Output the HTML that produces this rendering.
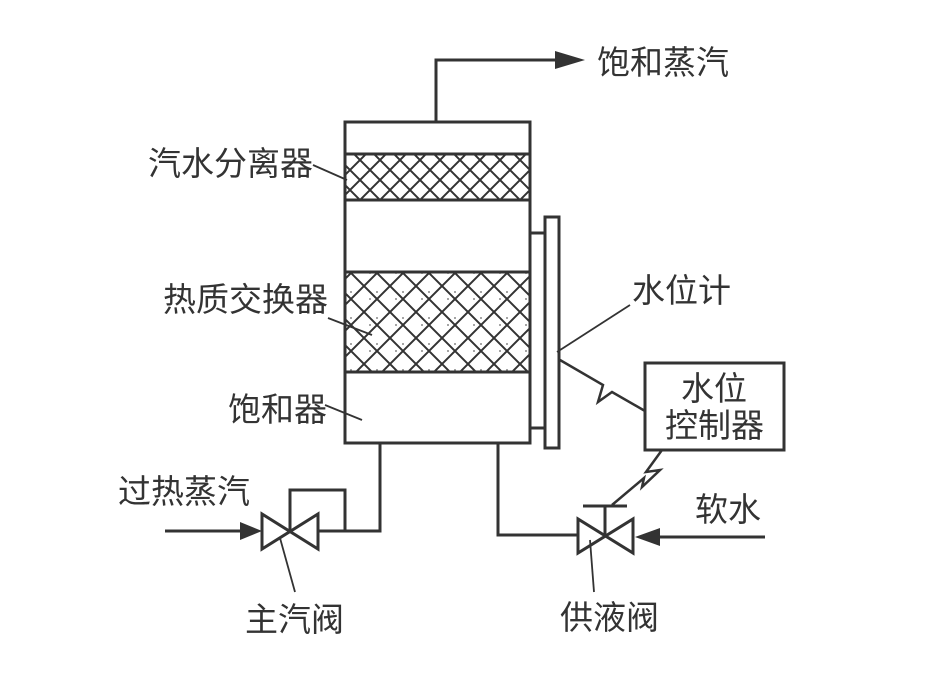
<!DOCTYPE html>
<html><head><meta charset="utf-8"><style>
html,body{margin:0;padding:0;background:#fff;}
svg{display:block;}
text{font-family:"Liberation Sans","Noto Sans CJK SC",sans-serif;font-size:33px;fill:#333;}
</style></head><body>
<svg width="947" height="688" viewBox="0 0 947 688" xmlns="http://www.w3.org/2000/svg">
<defs>
<pattern id="h1" width="20" height="20" patternUnits="userSpaceOnUse">
<path d="M-5,5 L5,-5 M0,20 L20,0 M15,25 L25,15 M-5,15 L5,25 M0,0 L20,20 M15,-5 L25,5" stroke="#333" stroke-width="2"/>
</pattern>
<pattern id="h2" width="26" height="26" patternUnits="userSpaceOnUse">
<path d="M-5,5 L5,-5 M0,26 L26,0 M21,31 L31,21 M-5,21 L5,31 M0,0 L26,26 M21,-5 L31,5" stroke="#333" stroke-width="2"/>
<circle cx="13" cy="6" r="1" fill="#888"/><circle cx="6" cy="13" r="1" fill="#888"/>
</pattern>
</defs>
<g stroke="#333" stroke-width="3" fill="none">
<rect x="345" y="122" width="185" height="321"/>
<rect x="345" y="154" width="185" height="46" fill="url(#h1)"/>
<rect x="345" y="272" width="185" height="100" fill="url(#h2)"/>
<rect x="545" y="217" width="14" height="231"/>
<line x1="530" y1="233" x2="545" y2="233"/>
<line x1="530" y1="428" x2="545" y2="428"/>
<polyline points="436,122 436,60 560,60"/>
<rect x="645" y="363" width="139" height="87"/>
<line x1="165" y1="531" x2="250" y2="531"/>
<polygon points="262,514 262,549 318,514 318,549" stroke-linejoin="miter"/>
<polyline points="290,531 290,490 345,490 345,531"/>
<polyline points="318,531 380,531 380,443"/>
<polyline points="578,535 498,535 498,443"/>
<polygon points="578,519 578,553 633,519 633,553"/>
<line x1="605" y1="536" x2="605" y2="506"/>
<line x1="583" y1="506" x2="627" y2="506"/>
<line x1="765" y1="537" x2="655" y2="537"/>
</g>
<g stroke="#333" stroke-width="2.5" fill="none">
<polyline points="560,360 603,385 598,402 612,392 645,411"/>
<polyline points="662,450 646,472 660,470 642,487 644,478 612,505"/>
</g>
<g fill="#333">
<polygon points="585,60 555,51 555,69"/>
<polygon points="262,531 240,522 240,540"/>
<polygon points="635,537 660,528 660,546"/>
</g>
<g stroke="#333" stroke-width="1.8">
<line x1="313" y1="165" x2="347" y2="180"/>
<line x1="328" y1="318" x2="372" y2="335"/>
<line x1="325" y1="405" x2="362" y2="420"/>
<line x1="630" y1="305" x2="557" y2="352"/>
<line x1="295" y1="592" x2="280" y2="538"/>
<line x1="594" y1="592" x2="590" y2="540"/>
</g>
<text x="597" y="74">饱和蒸汽</text>
<text x="148" y="175">汽水分离器</text>
<text x="163" y="311">热质交换器</text>
<text x="228" y="421">饱和器</text>
<text x="632" y="302">水位计</text>
<text x="681" y="400">水位</text>
<text x="665" y="437">控制器</text>
<text x="118" y="503">过热蒸汽</text>
<text x="695" y="521">软水</text>
<text x="245" y="631">主汽阀</text>
<text x="560" y="629">供液阀</text>
</svg>
</body></html>
